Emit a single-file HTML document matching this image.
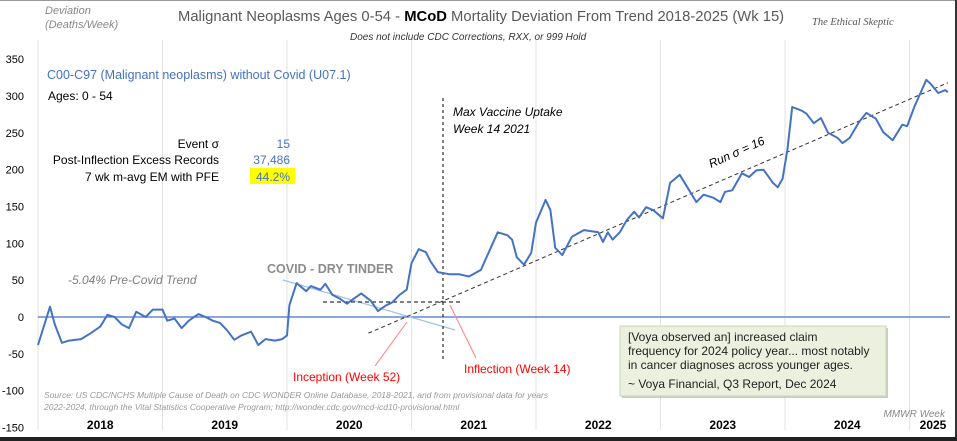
<!DOCTYPE html>
<html><head><meta charset="utf-8"><style>
body{margin:0;background:#fff}
#wrap{position:relative;width:957px;height:441px;overflow:hidden;font-family:"Liberation Sans",sans-serif}
svg text{font-family:"Liberation Sans",sans-serif}
</style></head><body>
<div id="wrap">
<svg id="chart" width="957" height="441">
<rect x="0" y="0" width="957" height="441" fill="#fff"/>
<line x1="0" y1="0.5" x2="957" y2="0.5" stroke="#999"/>
<line x1="956" y1="0" x2="956" y2="441" stroke="#333" stroke-width="2"/>
<line x1="0" y1="439" x2="957" y2="439" stroke="#222" stroke-width="4"/>
<g id="grid"></g>
<g id="yticks"></g>
<g id="xticks"></g>
<line id="zero" stroke="#4472c4" stroke-width="1.3"/>
<text x="45" y="14" font-size="11" font-style="italic" fill="#888">Deviation</text>
<text x="45" y="28" font-size="11" font-style="italic" fill="#888">(Deaths/Week)</text>
<text x="178" y="21" font-size="14.8" fill="#595959">Malignant Neoplasms Ages 0-54 - <tspan font-weight="bold" fill="#000">MCoD</tspan> Mortality Deviation From Trend  2018-2025 (Wk 15)</text>
<text x="350" y="40" font-size="10" font-style="italic" fill="#333">Does not include CDC Corrections,  RXX, or 999 Hold</text>
<text x="812" y="25" font-size="10.5" font-style="italic" fill="#555" style="font-family:'Liberation Serif',serif">The Ethical Skeptic</text>
<text x="47" y="79" font-size="12.5" fill="#4472c4">C00-C97 (Malignant neoplasms) without Covid (U07.1)</text>
<text x="48" y="100" font-size="12" fill="#000">Ages: 0 - 54</text>
<text x="219" y="148" font-size="12" text-anchor="end">Event σ</text>
<text x="290" y="148" font-size="12" text-anchor="end" fill="#4472c4">15</text>
<text x="219" y="164" font-size="12" text-anchor="end">Post-Inflection Excess Records</text>
<text x="290" y="164" font-size="12" text-anchor="end" fill="#4472c4">37,486</text>
<text x="219" y="181" font-size="12" text-anchor="end">7 wk m-avg EM with PFE</text>
<rect x="250" y="168" width="45" height="16" fill="#ffff00"/>
<text x="290" y="181" font-size="12" text-anchor="end" fill="#4472c4">44.2%</text>
<text x="68" y="284" font-size="12" font-style="italic" fill="#7f7f7f">-5.04% Pre-Covid  Trend</text>
<text x="267" y="273" font-size="12.5" font-weight="bold" fill="#8c8c8c">COVID - DRY TINDER</text>
<text x="453" y="116" font-size="12" font-style="italic">Max Vaccine Uptake</text>
<text x="453" y="133" font-size="12" font-style="italic">Week 14 2021</text>
<text x="0" y="0" font-size="12" font-style="italic" transform="translate(711,168) rotate(-24)">Run σ = 16</text>
<line x1="283" y1="280" x2="455" y2="330" stroke="#9dc3e6" stroke-width="1.2"/>
<line x1="323" y1="302" x2="463" y2="302" stroke="#000" stroke-dasharray="4,3"/>
<line x1="443" y1="98" x2="443" y2="361" stroke="#000" stroke-dasharray="3,3"/>
<line id="run" stroke="#333" stroke-dasharray="4,3"/>
<line x1="407" y1="322" x2="375" y2="366" stroke="#ff8080"/>
<line x1="450" y1="305" x2="476" y2="358" stroke="#ff8080"/>
<text x="293" y="381" font-size="12" fill="#ff0000">Inception (Week 52)</text>
<text x="464" y="373" font-size="12" fill="#ff0000">Inflection (Week 14)</text>
<path id="series" fill="none" stroke="#4472c4" stroke-width="2" stroke-linejoin="round"/>
<text x="44" y="398" font-size="8.5" font-style="italic" fill="#999">Source: US CDC/NCHS Multiple Cause of Death on CDC WONDER Online Database, 2018-2021, and from provisional data for years</text>
<text x="44" y="410" font-size="8.5" font-style="italic" fill="#999">2022-2024, through the Vital Statistics Cooperative Program; http://wonder.cdc.gov/mcd-icd10-provisional.html</text>
<text x="945" y="417" font-size="10" font-style="italic" fill="#888" text-anchor="end">MMWR Week</text>
<rect x="622" y="328" width="266" height="70" fill="#9a9a9a" opacity="0.5"/>
<rect x="620" y="326" width="266" height="70" fill="#ebf1de" stroke="#c9d7b3"/>
<text x="628" y="341" font-size="12" fill="#222">[Voya observed  an] increased claim</text>
<text x="628" y="355" font-size="12" fill="#222">frequency for 2024 policy year... most notably</text>
<text x="628" y="369" font-size="12" fill="#222">in cancer diagnoses across younger ages.</text>
<text x="628" y="388" font-size="12" fill="#222">~ Voya Financial, Q3 Report, Dec 2024</text>
</svg>
</div>
<script>
const yTicks=[350,300,250,200,150,100,50,0,-50,-100,-150];
const yearLabels=["2018","2019","2020","2021","2022","2023","2024","2025"];
const weeks=[0,5,7,10,13,18,22,26,29,32,35,38,41,45,48,52,54,57,60,63,67,70,73,76,79,82,85,89,92,95,99,102,104,105,108,112,114,118,120,123,126,129,132,135,139,142,145,148,151,154,156,159,162,164,167,172,176,180,185,192,196,198,200,203,206,208,212,214,216,219,223,228,234,236,238,240,243,246,249,251,254,257,261,264,268,272,275,278,282,285,287,290,294,297,300,303,307,309,311,313,315,319,321,324,327,330,334,336,339,343,346,350,353,357,361,363,366,371,373,376,379,380];
const values=[-38,14,-10,-35,-32,-30,-22,-13,3,0,-10,-15,7,0,10,10,-5,-2,-15,-5,4,0,-5,-8,-18,-31,-25,-20,-38,-30,-32,-30,-25,16,46,35,42,37,45,30,25,18,25,32,22,8,15,20,30,37,73,92,88,75,61,58,58,55,64,115,111,105,81,71,87,128,159,145,94,84,109,118,115,102,115,105,115,132,143,135,149,145,134,182,193,172,156,166,162,156,170,172,195,190,199,200,182,176,188,227,285,280,276,263,270,250,243,236,243,265,277,269,251,240,261,259,285,322,316,304,308,305];
const runTrendWeeks=[138,380];
const runTrendValues=[-22,318];
const X0=38,WK=124.5/52;
function xs(w){return X0+w*WK;}
function ys(v){return 317-v*0.7367;}
const NS="http://www.w3.org/2000/svg";
const grid=document.getElementById('grid'),yt=document.getElementById('yticks'),xt=document.getElementById('xticks');
for(let i=0;i<=yearLabels.length;i++){
  const l=document.createElementNS(NS,'line');
  const x=xs(i*52);
  l.setAttribute('x1',x);l.setAttribute('x2',x);l.setAttribute('y1',40);l.setAttribute('y2',430);
  l.setAttribute('stroke','#e3e3e3');
  
  
  grid.appendChild(l);
}
yTicks.forEach(v=>{
  const t=document.createElementNS(NS,'text');
  t.setAttribute('x',24);t.setAttribute('y',ys(v)+4);t.setAttribute('font-size','11');t.setAttribute('text-anchor','end');
  t.textContent=v;
  
  
  yt.appendChild(t);
});
yearLabels.forEach((y,i)=>{
  const t=document.createElementNS(NS,'text');
  let cx=xs(i*52+26); if(i===yearLabels.length-1) cx=933;
  t.setAttribute('x',cx);t.setAttribute('y',429);t.setAttribute('font-size','12');t.setAttribute('font-weight','bold');t.setAttribute('text-anchor','middle');
  t.textContent=y;
  
  
  xt.appendChild(t);
});
const z=document.getElementById('zero');
z.setAttribute('x1',xs(0));z.setAttribute('x2',950);z.setAttribute('y1',ys(0));z.setAttribute('y2',ys(0));
const r=document.getElementById('run');
r.setAttribute('x1',xs(runTrendWeeks[0]));r.setAttribute('y1',ys(runTrendValues[0]));
r.setAttribute('x2',xs(runTrendWeeks[1]));r.setAttribute('y2',ys(runTrendValues[1]));
document.getElementById('series').setAttribute('d',weeks.map((w,i)=>(i?'L':'M')+xs(w).toFixed(1)+','+ys(values[i]).toFixed(1)).join(''));
</script>
</body></html>
